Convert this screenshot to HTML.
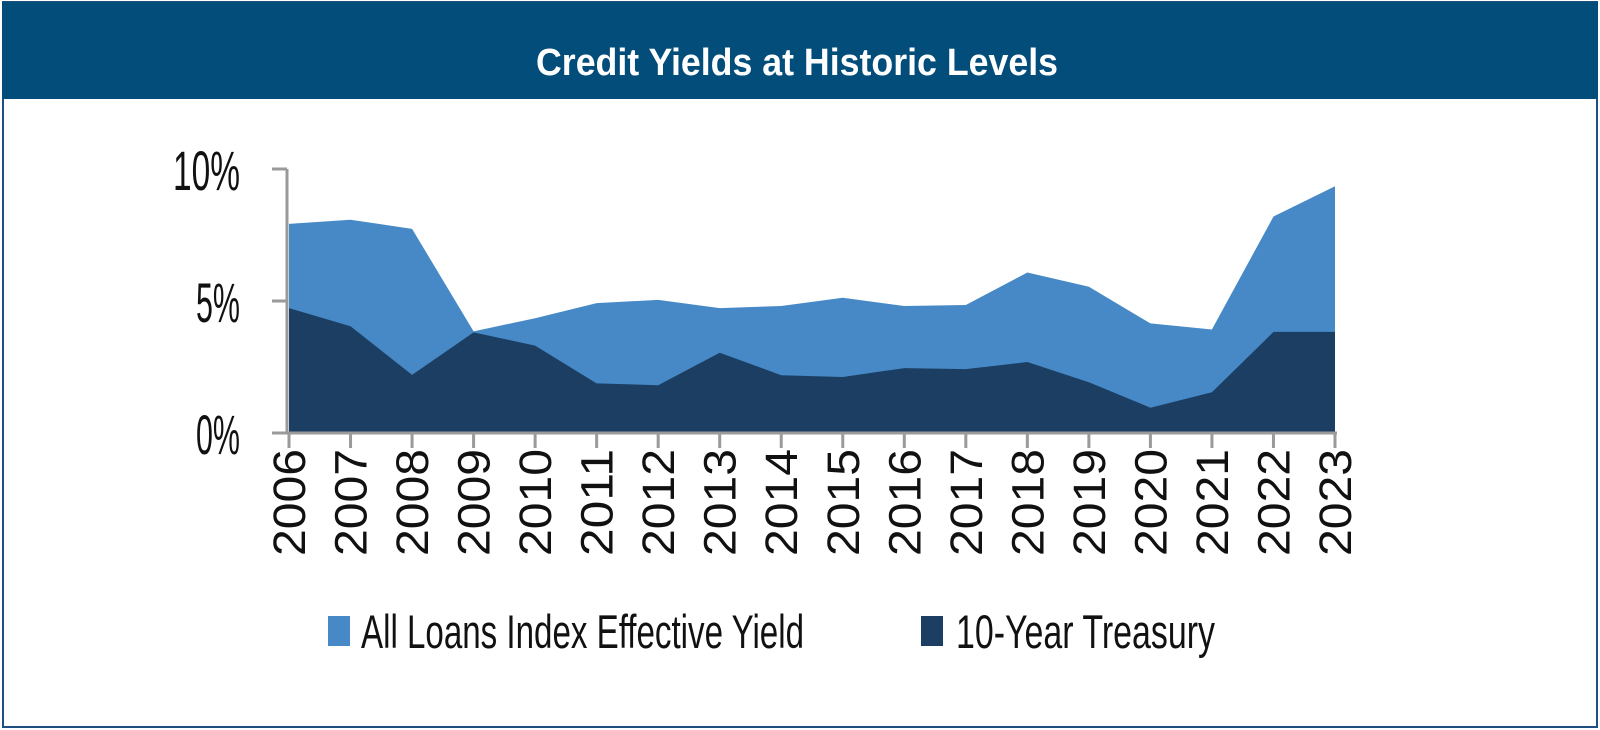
<!DOCTYPE html>
<html><head><meta charset="utf-8"><style>
html,body{margin:0;padding:0;background:#fff;}
svg{display:block;}
text{font-family:"Liberation Sans",sans-serif;}
</style></head><body>
<svg width="1600" height="730" viewBox="0 0 1600 730" xmlns="http://www.w3.org/2000/svg">
<rect x="0" y="0" width="1600" height="730" fill="#fff"/>
<rect x="3" y="2" width="1594" height="725" fill="none" stroke="#1f4f7e" stroke-width="2"/>
<rect x="2" y="2" width="1596" height="97" fill="#034d7b"/>
<text x="797" y="75" fill="#fff" font-size="38" font-weight="bold" text-anchor="middle" textLength="522" lengthAdjust="spacingAndGlyphs">Credit Yields at Historic Levels</text>
<g id="chart"></g>
</svg>
<script>
(function(){
var ns="http://www.w3.org/2000/svg",g=document.getElementById("chart");
function el(t,a,txt){var e=document.createElementNS(ns,t);for(var k in a)e.setAttribute(k,a[k]);if(txt)e.textContent=txt;g.appendChild(e);return e;}
var L=[7.92,8.08,7.73,3.85,4.35,4.92,5.04,4.73,4.81,5.12,4.81,4.85,6.08,5.54,4.15,3.92,8.2,9.35];
var D=[4.73,4.04,2.2,3.81,3.31,1.88,1.81,3.04,2.19,2.12,2.46,2.42,2.69,1.92,0.96,1.54,3.83,3.83];
var x0=289,dx=(1335-289)/17,y0=433,k=26.4;
function X(i){return x0+i*dx;}function Y(v){return y0-v*k;}
function area(a,c){var p="M"+X(0)+","+y0;for(var i=0;i<a.length;i++)p+=" L"+X(i).toFixed(1)+","+Y(a[i]).toFixed(1);p+=" L"+X(17)+","+y0+"Z";el("path",{d:p,fill:c});}
area(L,"#4689c6");area(D,"#1b3e62");
el("line",{x1:287,y1:169,x2:287,y2:434,stroke:"#9a9a9a","stroke-width":3});
el("line",{x1:286,y1:433,x2:1337,y2:433,stroke:"#9a9a9a","stroke-width":3});
[[10,"10%",67],[5,"5%",44],[0,"0%",44]].forEach(function(t){var y=Y(t[0]);
el("line",{x1:272,y1:y,x2:287,y2:y,stroke:"#9a9a9a","stroke-width":3});
el("text",{x:240,y:y+21,"font-size":56,"text-anchor":"end",fill:"#111",textLength:t[2],lengthAdjust:"spacingAndGlyphs"},t[1]);});
for(var i=0;i<18;i++){var x=X(i);
el("line",{x1:x,y1:433,x2:x,y2:448,stroke:"#9a9a9a","stroke-width":3});
el("text",{transform:"translate("+(x+16).toFixed(1)+",449) rotate(-90)","font-size":45,"text-anchor":"end",fill:"#111",textLength:107,lengthAdjust:"spacingAndGlyphs"},String(2006+i));}
el("rect",{x:328,y:616,width:22,height:30,fill:"#4689c6"});
el("text",{x:361,y:648,"font-size":47,fill:"#111",textLength:443,lengthAdjust:"spacingAndGlyphs"},"All Loans Index Effective Yield");
el("rect",{x:921,y:616,width:22,height:30,fill:"#1b3e62"});
el("text",{x:956,y:648,"font-size":47,fill:"#111",textLength:259,lengthAdjust:"spacingAndGlyphs"},"10-Year Treasury");
})();
</script>
</body></html>
